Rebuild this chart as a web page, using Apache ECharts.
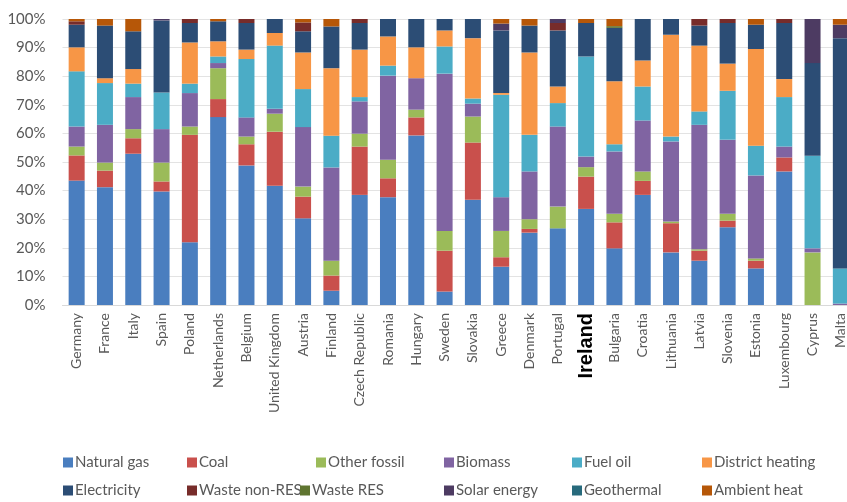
<!DOCTYPE html>
<html>
<head>
<meta charset="utf-8">
<script src="https://cdn.jsdelivr.net/npm/echarts@6/dist/echarts.min.js"></script>
<style>
  html, body { margin: 0; padding: 0; background: #fff; overflow: hidden; }
  /* drawing surface runs a little past the right edge so the last bar is clipped */
  #chart { width: 862px; height: 502px; }
</style>
</head>
<body>
<div id="chart"></div>
<script>
// Share of final heating energy by source, per country (%)
const countries = ['Germany', 'France', 'Italy', 'Spain', 'Poland', 'Netherlands', 'Belgium', 'United Kingdom',
  'Austria', 'Finland', 'Czech Republic', 'Romania', 'Hungary', 'Sweden', 'Slovakia', 'Greece', 'Denmark',
  'Portugal', 'Ireland', 'Bulgaria', 'Croatia', 'Lithuania', 'Latvia', 'Slovenia', 'Estonia', 'Luxembourg',
  'Cyprus', 'Malta'];

const naturalGas = [43.5, 41.2, 52.9, 39.7, 21.9, 65.7, 48.8, 41.7, 30.3, 5.0, 38.5, 37.7, 59.3, 4.7, 36.8, 13.4, 25.3, 26.8, 33.6, 19.8, 38.5, 18.4, 15.5, 27.2, 12.8, 46.7, 0, 0];
const coal = [8.8, 5.8, 5.4, 3.5, 37.6, 6.3, 7.4, 18.9, 7.6, 5.3, 16.9, 6.6, 6.3, 14.3, 20.0, 3.3, 1.3, 0, 11.3, 9.1, 4.9, 10.2, 3.5, 2.3, 2.7, 4.9, 0, 0];
const otherFossil = [3.1, 2.8, 3.2, 6.6, 2.9, 10.8, 2.7, 6.3, 3.5, 5.2, 4.5, 6.5, 2.7, 6.9, 9.1, 9.2, 3.4, 7.6, 3.3, 3.0, 3.3, 0.6, 0.5, 2.4, 0.8, 0, 18.4, 0];
const biomass = [7.0, 13.2, 11.2, 11.7, 11.7, 1.8, 6.7, 1.7, 20.8, 32.6, 11.3, 29.4, 11.0, 55.0, 4.5, 11.8, 16.7, 28.0, 3.7, 21.8, 17.8, 28.0, 43.5, 25.9, 29.0, 3.8, 1.4, 0.5];
const fuelOil = [19.3, 14.6, 4.7, 12.8, 3.3, 2.3, 20.4, 22.1, 13.3, 11.1, 1.5, 3.5, 0, 9.5, 1.8, 35.8, 12.8, 8.2, 35.0, 2.5, 11.9, 1.7, 4.7, 17.1, 10.4, 17.3, 32.4, 12.3];
const districtHeating = [8.4, 1.7, 5.1, 0, 14.4, 5.3, 3.3, 4.4, 12.8, 23.6, 16.6, 10.2, 10.8, 5.6, 21.1, 0.6, 28.8, 5.8, 0, 22.0, 9.1, 35.6, 23.0, 9.5, 33.8, 6.3, 0, 0];
const electricity = [7.9, 18.4, 13.2, 25.2, 6.8, 7.0, 9.3, 4.9, 7.4, 14.6, 9.3, 6.1, 9.9, 4.0, 6.7, 21.9, 9.4, 19.6, 11.7, 18.7, 14.5, 5.5, 7.0, 14.2, 8.5, 19.6, 32.4, 80.5];
const wasteNonRes = [1.2, 0, 0, 0, 1.4, 0, 1.4, 0, 3.1, 0, 1.4, 0, 0, 0, 0, 0, 0, 2.6, 0, 0, 0, 0, 2.3, 1.4, 0, 1.4, 0, 0];
const wasteRes = [0, 0, 0, 0, 0, 0, 0, 0, 0, 0, 0, 0, 0, 0, 0, 0, 0, 0, 0, 0.6, 0, 0, 0, 0, 0, 0, 0, 0];
const solarEnergy = [0, 0, 0, 0.5, 0, 0, 0, 0, 0, 0, 0, 0, 0, 0, 0, 2.4, 0, 1.4, 0, 0, 0, 0, 0, 0, 0, 0, 15.4, 4.7];
const geothermal = [0, 0, 0, 0, 0, 0, 0, 0, 0, 0, 0, 0, 0, 0, 0, 0, 0, 0, 0, 0, 0, 0, 0, 0, 0, 0, 0, 0];
const ambientHeat = [0.8, 2.3, 4.3, 0, 0, 0.8, 0, 0, 1.2, 2.6, 0, 0, 0, 0, 0, 1.6, 2.3, 0, 1.4, 2.5, 0, 0, 0, 0, 2.0, 0, 0, 2.0];

const yTicks = [0, 10, 20, 30, 40, 50, 60, 70, 80, 90, 100];
const highlighted = 'Ireland';

const sources = [
  { name: 'Natural gas', data: naturalGas, color: '#4a7ebf' },
  { name: 'Coal', data: coal, color: '#c9504c' },
  { name: 'Other fossil', data: otherFossil, color: '#9bbb59' },
  { name: 'Biomass', data: biomass, color: '#8064a2' },
  { name: 'Fuel oil', data: fuelOil, color: '#4bacc6' },
  { name: 'District heating', data: districtHeating, color: '#f79646' },
  { name: 'Electricity', data: electricity, color: '#2c4d75' },
  { name: 'Waste non-RES', data: wasteNonRes, color: '#772c2a' },
  { name: 'Waste RES', data: wasteRes, color: '#5f7530' },
  { name: 'Solar energy', data: solarEnergy, color: '#4d3b62' },
  { name: 'Geothermal', data: geothermal, color: '#276a7c' },
  { name: 'Ambient heat', data: ambientHeat, color: '#b65708' }
];

// legend grid: two rows of six entries
const legendSpots = [
  [63, 455], [187, 455], [316, 455], [444, 455], [572, 455], [702, 455],
  [63, 483], [187, 483], [300, 483], [444, 483], [572, 483], [702, 483]
];

const font = 'Lato, "Open Sans", sans-serif';

const chart = echarts.init(document.getElementById('chart'), null, { renderer: 'canvas' });

chart.setOption({
  animation: false,
  backgroundColor: '#ffffff',
  grid: { left: 62.5, right: 7, top: 19, bottom: 197, containLabel: false },
  legend: sources.map((s, i) => ({
    data: [s.name],
    left: legendSpots[i][0],
    top: legendSpots[i][1],
    orient: 'horizontal',
    padding: 0,
    itemWidth: 10,
    itemHeight: 10,
    icon: 'rect',
    selectedMode: false,
    textStyle: { fontFamily: font, fontSize: 15, color: '#595959', padding: [0, 0, 0, -3] }
  })),
  xAxis: {
    type: 'category',
    data: countries,
    axisLine: { lineStyle: { color: '#d9d9d9' } },
    axisTick: { show: false },
    axisLabel: {
      rotate: 90,
      interval: 0,
      margin: 8,
      fontFamily: font,
      fontSize: 14,
      color: '#595959',
      formatter: v => v === highlighted ? '{hl|' + v + '}' : v,
      rich: {
        hl: { fontFamily: '"Liberation Sans", Arial, sans-serif', fontWeight: 'bold', fontSize: 20, color: '#000000' }
      }
    }
  },
  yAxis: {
    type: 'value',
    min: yTicks[0],
    max: yTicks[yTicks.length - 1],
    interval: yTicks[1] - yTicks[0],
    axisLine: { show: false },
    axisTick: { show: false },
    splitLine: { lineStyle: { color: '#e3e3e3' } },
    axisLabel: { formatter: '{value}%', margin: 17, fontFamily: font, fontSize: 15, color: '#595959' }
  },
  series: sources.map(s => ({
    name: s.name,
    type: 'bar',
    stack: 'total',
    barWidth: 16,
    data: s.data,
    itemStyle: { color: s.color }
  }))
});
</script>
</body>
</html>
